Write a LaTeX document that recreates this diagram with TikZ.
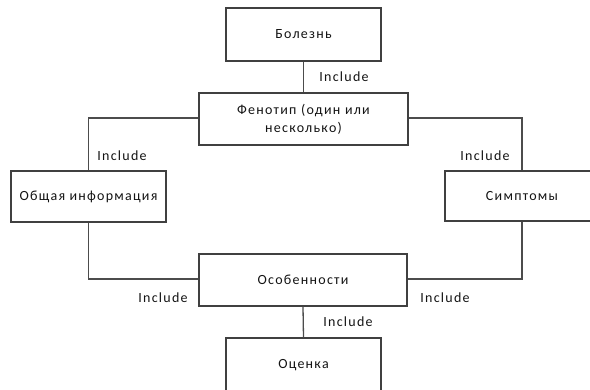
\documentclass[tikz,border=0pt]{standalone}
\usepackage{fontspec}
\setmainfont{Carlito}[LetterSpace=9]
\begin{document}
\begin{tikzpicture}[x=1pt,y=-1pt,
  block/.style={draw=black!75,line width=1.3pt,fill=white,inner sep=0pt,
    align=center,font=\fontsize{14}{18}\selectfont,text=black!92},
  link/.style={draw=black!70,line width=1.3pt},
  tag/.style={font=\fontsize{14}{18}\selectfont,text=black!92,inner sep=1pt}]
\useasboundingbox (0,0) rectangle (590,389);
\clip (0,0) rectangle (590,389);
% boxes
\node[block,minimum width=155pt,minimum height=53pt] (dis) at (303.5,34.5) {Болезнь};
\node[block,minimum width=209pt,minimum height=52pt,text width=180pt] (phen) at (303.5,119) {Фенотип (один или\\несколько)};
\node[block,minimum width=155pt,minimum height=51pt] (gen) at (88.5,196.5) {Общая информация};
\node[block,minimum width=154pt,minimum height=50pt] (sym) at (522,196) {Симптомы};
\node[block,minimum width=208pt,minimum height=52pt] (feat) at (303,280) {Особенности};
\node[block,minimum width=155pt,minimum height=54pt] (eval) at (303.5,365) {Оценка};
% connectors
\draw[link] (dis.south) -- (phen.north);
\draw[link] (phen.west |- 0,118) -| (gen.north);
\draw[link] (phen.east |- 0,118) -| (sym.north);
\draw[link] (gen.south) |- (feat.west |- 0,279);
\draw[link] (sym.south) |- (feat.east |- 0,279);
\draw[link] (feat.south) -- (eval.north);
% labels
\node[tag] (t1) at (344,77) {Include};
\node[tag] (t2) at (122,156) {Include};
\node[tag] (t3) at (485,156) {Include};
\node[tag] (t4) at (163,298) {Include};
\node[tag] (t5) at (445,298) {Include};
\node[tag] (t6) at (348,322) {Include};
\end{tikzpicture}
\end{document}
